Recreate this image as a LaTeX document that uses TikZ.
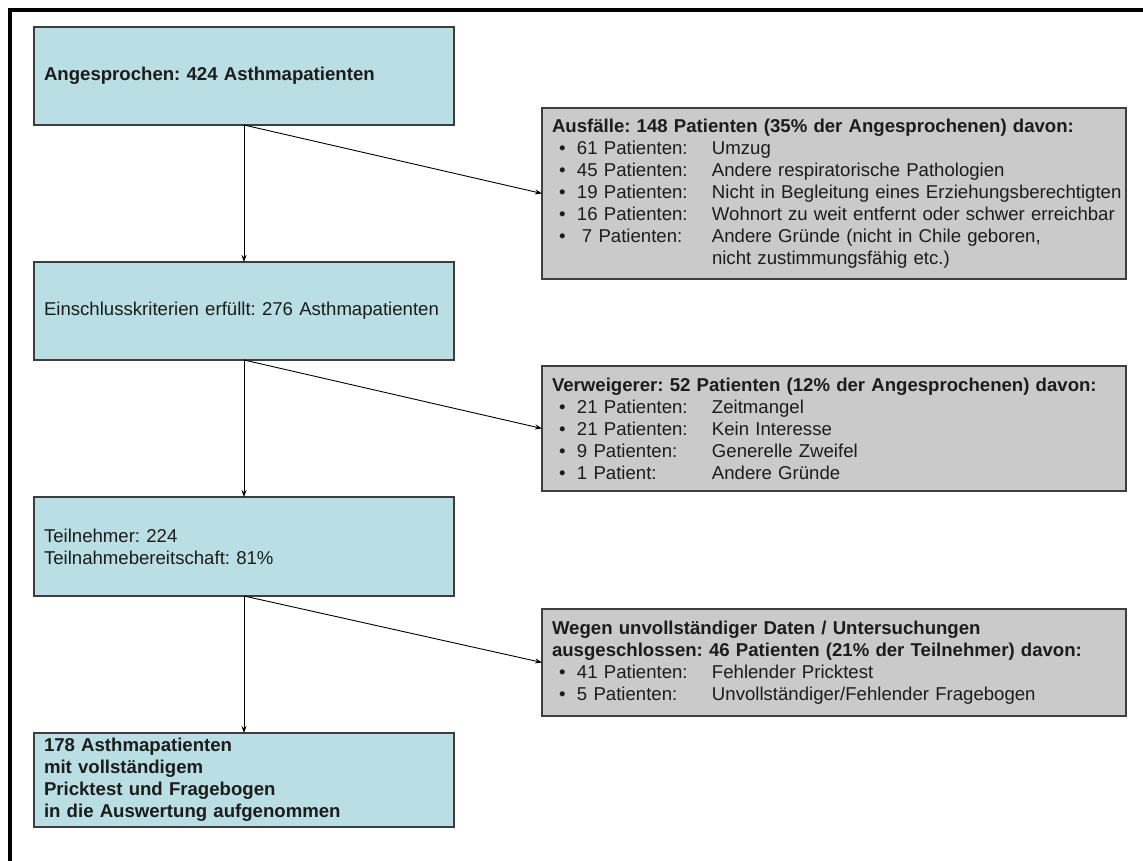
\documentclass[tikz,border=0pt]{standalone}
\usepackage{fontspec}
\setmainfont{Liberation Sans}
\usepackage{tikz}
\usetikzlibrary{arrows.meta}
\frenchspacing

\definecolor{boxblue}{RGB}{185,223,228}
\definecolor{boxgray}{RGB}{202,202,202}
\definecolor{rimgray}{RGB}{62,62,62}
\definecolor{inkgray}{RGB}{28,28,28}

% one line of a drop-out list: bullet, count, reason
\newcommand{\grund}[2]{\hspace*{7pt}\makebox[18pt][l]{\textbullet}\makebox[135pt][l]{#1}\mbox{#2}}
\newcommand{\weiter}[1]{\hspace*{160pt}\mbox{#1}}

\tikzset{
	flowbox/.style={draw=rimgray, line width=1.3pt, fill=boxblue, text=inkgray, anchor=north west,
		inner xsep=10pt, inner ysep=0pt, outer sep=0pt, text width=400pt, align=left,
		font=\fontsize{18.6}{22}\selectfont},
	dropbox/.style={flowbox, fill=boxgray, text width=564pt},
	flowline/.style={->, line width=0.9pt, black}
}

\begin{document}
\hyphenpenalty=10000
\begin{tikzpicture}[x=1pt, y=-1pt, >={Stealth[length=7pt, width=5pt]}]
			\useasboundingbox (0,0) rectangle (1143,861);
			\fill[white] (0,0) rectangle (1143,861);
			\draw[line width=4.5pt] (1143,10) -- (10,10) -- (10,861);

			% main column
			\node[flowbox, minimum height=98pt] (angespr) at (34,27) {\textbf{Angesprochen: 424 Asthmapatienten}};
			\node[flowbox, minimum height=98pt] (einschl) at (34,262) {Einschlusskriterien erfüllt: 276 Asthmapatienten};
			\node[flowbox, minimum height=99pt] (teiln) at (34,497) {Teilnehmer: 224\\Teilnahmebereitschaft: 81\%};
			\node[flowbox, minimum height=94pt] (ausw) at (34,733) {\textbf{178 Asthmapatienten}\\\textbf{mit vollständigem}\\\textbf{Pricktest und Fragebogen}\\\textbf{in die Auswertung aufgenommen}};

			% drop-outs
			\node[dropbox, minimum height=171pt] (ausfall) at (542,108) {\textbf{Ausfälle: 148 Patienten (35\% der Angesprochenen) davon:}\\
				\grund{61 Patienten:}{Umzug}\\
				\grund{45 Patienten:}{Andere respiratorische Pathologien}\\
				\grund{19 Patienten:}{Nicht in Begleitung eines Erziehungsberechtigten}\\
				\grund{16 Patienten:}{Wohnort zu weit entfernt oder schwer erreichbar}\\
				\grund{\hspace*{5pt}7 Patienten:}{Andere Gründe (nicht in Chile geboren,}\\
				\weiter{nicht zustimmungsfähig etc.)}};
			\node[dropbox, minimum height=125pt] (verweig) at (542,366) {\textbf{Verweigerer: 52 Patienten (12\% der Angesprochenen) davon:}\\
				\grund{21 Patienten:}{Zeitmangel}\\
				\grund{21 Patienten:}{Kein Interesse}\\
				\grund{9 Patienten:}{Generelle Zweifel}\\
				\grund{1 Patient:}{Andere Gründe}};
			\node[dropbox, minimum height=107pt] (unvoll) at (542,609) {\textbf{Wegen unvollständiger Daten / Untersuchungen}\\
				\textbf{ausgeschlossen: 46 Patienten (21\% der Teilnehmer) davon:}\\
				\grund{41 Patienten:}{Fehlender Pricktest}\\
				\grund{5 Patienten:}{Unvollständiger/Fehlender Fragebogen}};

			\draw[flowline] (angespr.south) -- (einschl.north);
			\draw[flowline] (einschl.south) -- (teiln.north);
			\draw[flowline] (teiln.south) -- (ausw.north);
			\draw[flowline] (angespr.south) -- (ausfall.west);
			\draw[flowline] (einschl.south) -- (verweig.west);
			\draw[flowline] (teiln.south) -- (unvoll.west);
		\end{tikzpicture}
\end{document}
